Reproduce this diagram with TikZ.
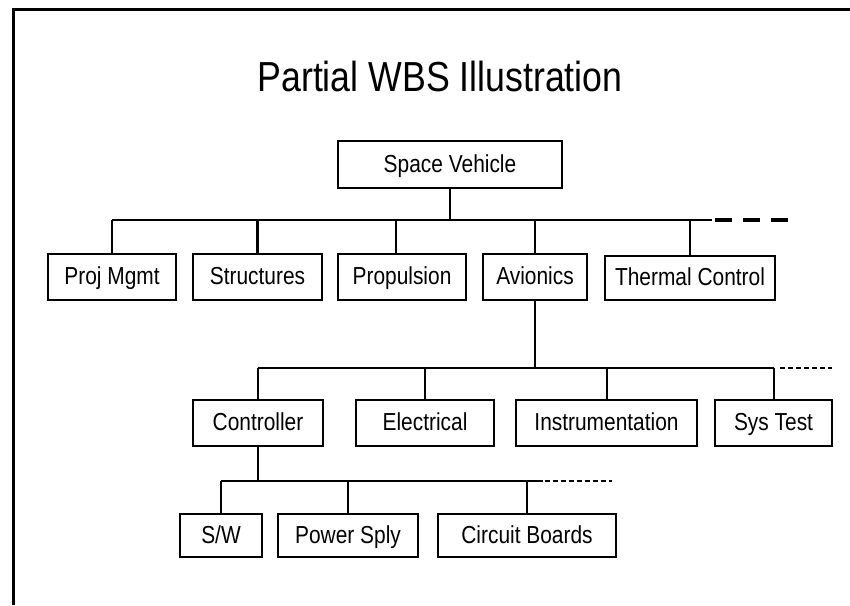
\documentclass[tikz,border=0pt]{standalone}
\usepackage{fontspec}
\setmainfont[FakeStretch=0.85]{Liberation Sans}
\usetikzlibrary{positioning}

\begin{document}
\begin{tikzpicture}[
x=0.5pt, y=-0.5pt,
    element/.style={rectangle, draw, line width=1.2pt, minimum height=23pt, inner sep=0pt, text height=9pt, text depth=1.5pt, font=\fontsize{12.3}{14}\selectfont},
    lineone/.style={draw, line width=1.4pt},
    linetwo/.style={draw, line width=1pt},
    linethree/.style={draw, line width=0.8pt},
    moreone/.style={draw, line width=2pt, dash pattern=on 8.5pt off 5.5pt},
    moretwo/.style={draw, line width=1.4pt, dash pattern=on 2.6pt off 1.4pt}
]
    \useasboundingbox (0,0) rectangle (850,605);

    % Frame
    \draw[line width=1.5pt] (13,605) -- (13,9) -- (850,9);

    % Title
    \node (title) at (440,76) {\fontsize{21}{24}\selectfont Partial WBS Illustration};

    % Top level
    \node[element, minimum width=112pt, minimum height=23.5pt] (sv) at (450,164.5) {Space Vehicle};

    % Level 1
    \node[element, minimum width=64pt] (pm) at (112,277) {Proj Mgmt};
    \node[element, minimum width=64.5pt] (st) at (257.5,277) {Structures};
    \node[element, minimum width=64pt] (pr) at (402,277) {Propulsion};
    \node[element, minimum width=52pt] (av) at (535,277) {Avionics};
    \node[element, minimum width=85pt, minimum height=22pt] (tc) at (690,278) {Thermal Control};

    % Level 2
    \node[element, minimum width=65pt] (ctrl) at (258,423) {Controller};
    \node[element, minimum width=69pt] (el) at (425,423) {Electrical};
    \node[element, minimum width=90.5pt] (ins) at (606.5,423) {Instrumentation};
    \node[element, minimum width=58.5pt] (sys) at (773.5,423) {Sys Test};

    % Level 3
    \node[element, minimum width=41pt, minimum height=21.5pt] (sw) at (221,535.5) {S/W};
    \node[element, minimum width=70pt, minimum height=21.5pt] (ps) at (348,535.5) {Power Sply};
    \node[element, minimum width=89pt, minimum height=21.5pt] (cb) at (527,535.5) {Circuit Boards};

    % Bars
    \coordinate (bar1) at (0,220);
    \coordinate (bar1end) at (712,220);
    \coordinate (more1a) at (715,220);
    \coordinate (more1b) at (790,220);
    \coordinate (bar2) at (0,368);
    \coordinate (more2a) at (780,368);
    \coordinate (more2b) at (832,368);
    \coordinate (bar3) at (0,481);
    \coordinate (bar3end) at (543,481);
    \coordinate (more3a) at (545,481);
    \coordinate (more3b) at (612,481);

    % Connect Level 1
    \draw[lineone] (sv.south) -- (sv.south |- bar1);
    \draw[lineone] (pm.north |- bar1) -- (bar1end);
    \draw[moreone] (more1a) -- (more1b);
    \foreach \n in {pm, st, av, tc}
        \draw[lineone] (\n.north) -- (\n.north |- bar1);
    \draw[lineone] ([xshift=-3pt]pr.north) -- ([xshift=-3pt]pr.north |- bar1);

    % Connect Level 2
    \draw[linetwo] (av.south) -- (av.south |- bar2);
    \draw[linetwo] (ctrl.north |- bar2) -- (sys.north |- bar2);
    \draw[moretwo] (more2a) -- (more2b);
    \foreach \n in {ctrl, el, ins, sys}
        \draw[linetwo] (\n.north) -- (\n.north |- bar2);

    % Connect Level 3
    \draw[linethree] (ctrl.south) -- (ctrl.south |- bar3);
    \draw[linethree] (sw.north |- bar3) -- (bar3end);
    \draw[moretwo] (more3a) -- (more3b);
    \foreach \n in {sw, ps, cb}
        \draw[linethree] (\n.north) -- (\n.north |- bar3);

\end{tikzpicture}
\end{document}
